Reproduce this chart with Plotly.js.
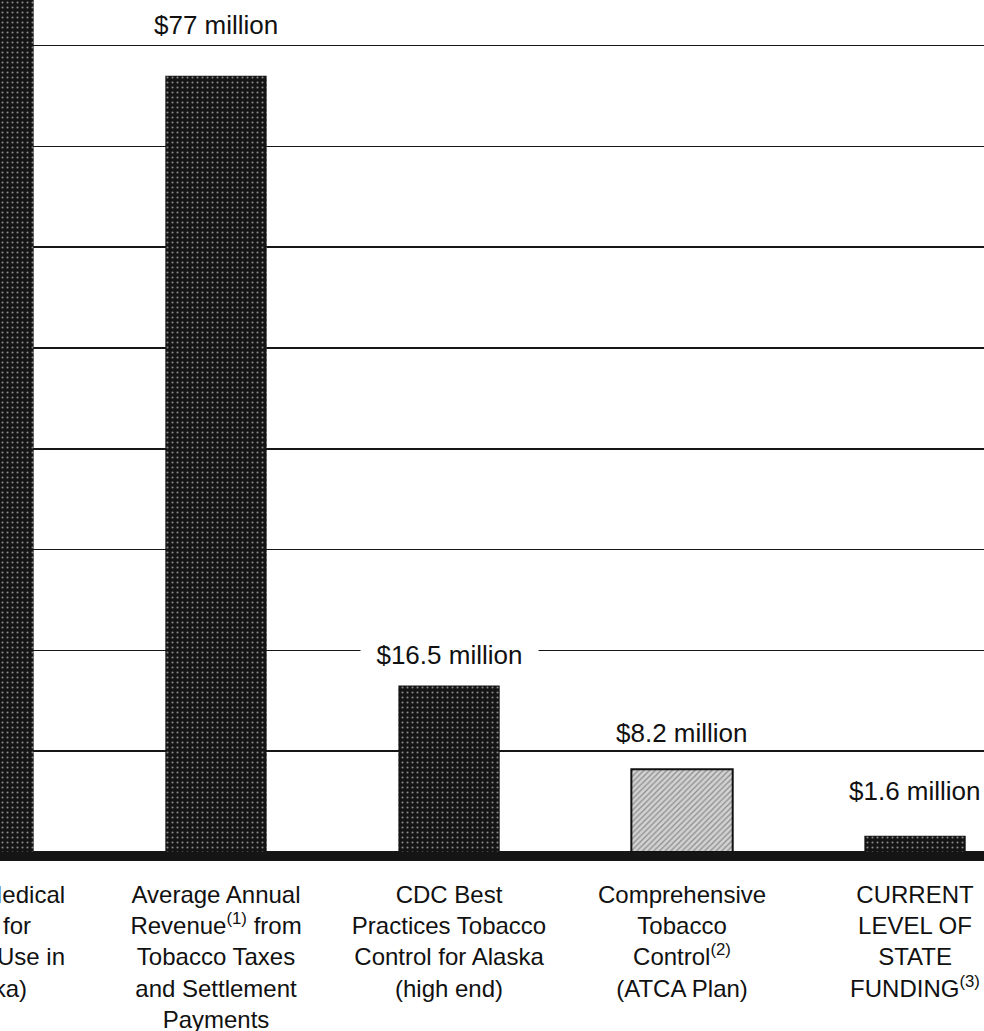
<!DOCTYPE html>
<html>
<head>
<meta charset="utf-8">
<script src="https://cdn.plot.ly/plotly-3.0.1.min.js"></script>
<style>
  html, body { margin: 0; padding: 0; background: #ffffff; overflow: hidden; width: 984px; height: 1031px; }
  #chart { position: absolute; left: -130px; top: 0; width: 1114px; height: 1031px; }
</style>
</head>
<body>
<div id="chart"></div>
<script>
// Categories (the first one is cut off at the left edge of the scan)
const categories = [
  "Annual Medical<br>Costs for<br>Tobacco Use in<br>(Alaska)",
  "Average Annual<br>Revenue<sup>(1)</sup> from<br>Tobacco Taxes<br>and Settlement<br>Payments",
  "CDC Best<br>Practices Tobacco<br>Control for Alaska<br>(high end)",
  "Comprehensive<br>Tobacco<br>Control<sup>(2)</sup><br>(ATCA Plan)",
  "CURRENT<br>LEVEL OF<br>STATE<br>FUNDING<sup>(3)</sup>"
];
// Values in $ million (first bar runs off the top of the scan; estimated)
const values = [130, 77, 16.5, 8.2, 1.6];
// Which bars carry a visible value label
const showLabel = [false, true, true, true, true];

// styles
const dark = '#141414';
const labelShift = [0, 51, 31, 36, 45];

const barTrace = {
  type: 'bar',
  x: categories,
  y: values,
  width: 0.435,
  marker: {
    color: [dark, dark, dark, '#d2d2d2', dark],
    line: { color: '#111', width: [0, 0, 0, 2, 0] },
    pattern: {
      shape: ['.', '.', '.', '/', '.'],
      fgcolor: ['#8c8c8c', '#8c8c8c', '#8c8c8c', '#707070', '#8c8c8c'],
      size: [5, 5, 5, 4, 5],
      solidity: [0.14, 0.14, 0.14, 0.3, 0.14],
      fillmode: 'overlay'
    }
  },
  hoverinfo: 'skip',
  showlegend: false
};

const annotations = [];
categories.forEach((c, i) => {
  if (!showLabel[i]) return;
  const pad = i === 2 ? '\u00a0\u00a0' : '';
  annotations.push({
    x: c, y: values[i], xref: 'x', yref: 'y',
    text: pad + '$' + values[i] + ' million' + pad,
    showarrow: false,
    xanchor: 'center', yanchor: 'middle',
    yshift: labelShift[i],
    bgcolor: i === 2 ? '#ffffff' : 'rgba(0,0,0,0)',
    borderpad: 1,
    font: { family: 'Liberation Sans, Arial, sans-serif', size: 26, color: '#111' }
  });
});

const layout = {
  width: 1114,
  height: 1031,
  margin: { l: 0, r: 0, t: 0, b: 169 },
  paper_bgcolor: '#ffffff',
  plot_bgcolor: '#ffffff',
  xaxis: {
    type: 'category',
    range: [-0.485, 4.296],
    showgrid: false,
    zeroline: false,
    showline: false,
    ticks: '',
    ticklabelstandoff: 16,
    tickfont: { family: 'Liberation Sans, Arial, sans-serif', size: 24, color: '#111' },
    fixedrange: true
  },
  yaxis: {
    range: [-1, 84.52],
    dtick: 10,
    tick0: 0,
    showgrid: true,
    gridcolor: '#161616',
    gridwidth: 1.6,
    zeroline: false,
    showline: false,
    showticklabels: false,
    ticks: '',
    fixedrange: true
  },
  shapes: [{
    type: 'rect', xref: 'paper', yref: 'y',
    x0: 0, x1: 1, y0: -0.9, y1: 0,
    fillcolor: '#151515', line: { width: 0 }, layer: 'above'
  }],
  annotations: annotations
};

Plotly.newPlot('chart', [barTrace], layout, { staticPlot: true, displayModeBar: false });
</script>
</body>
</html>
